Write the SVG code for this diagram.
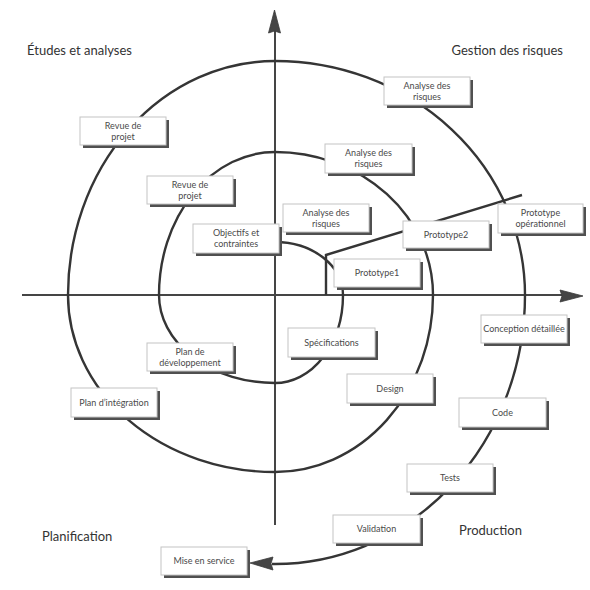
<svg xmlns="http://www.w3.org/2000/svg" width="590" height="590" viewBox="0 0 590 590">
<style>
.ax{stroke:#454545;stroke-width:2;fill:none}
.sp{stroke:#353535;stroke-width:2.4;fill:none}
.hd{fill:#454545;stroke:#3a3a3a;stroke-width:0.8}
.sh{fill:#505050}
.bx{fill:#fff;stroke:#c4c4c4;stroke-width:1}
.t{font-family:Lato,"Open Sans","Liberation Sans",sans-serif;font-size:9px;fill:#4a4a4a;text-anchor:middle}
.c{font-family:Lato,"Open Sans","Liberation Sans",sans-serif;font-size:13px;fill:#333}
</style>
<rect width="590" height="590" fill="#fff"/>
<g id="connectors">
<line class="ax" x1="22" y1="295" x2="562" y2="295"/>
<polygon class="hd" points="583,296 560,290 562,296 560,302"/>
<line class="ax" x1="275" y1="525" x2="275" y2="31"/>
<polygon class="hd" points="274.5,10 268.5,33 274.5,31 280.5,33"/>
<path class="sp" d="M 275 242 A 68 53 0 0 1 343 295 A 68 88 0 0 1 275 383 A 116 88 0 0 1 159 295 A 116 143 0 0 1 275 152 A 158 143 0 0 1 433 295 A 158 177 0 0 1 275 472 A 207 177 0 0 1 68 295 A 207 234 0 0 1 275 61 A 250 234 0 0 1 525 295 A 250 269 0 0 1 272 564"/>
<polygon class="hd" points="250,563 273,557 271,563.5 273,570"/>
<path class="sp" d="M 326 295 L 326 255 L 522 195" stroke-width="2"/>
</g>
<g id="revue-projet-1"><rect class="sh" x="83" y="120" width="86" height="28"/><rect class="bx" x="80" y="117" width="86" height="28"/><text class="t" x="123" y="128.5">Revue de</text><text class="t" x="123" y="139.5">projet</text></g>
<g id="revue-projet-2"><rect class="sh" x="150" y="179" width="86" height="28"/><rect class="bx" x="147" y="176" width="86" height="28"/><text class="t" x="190" y="187.5">Revue de</text><text class="t" x="190" y="198.5">projet</text></g>
<g id="objectifs"><rect class="sh" x="196" y="227" width="86" height="29"/><rect class="bx" x="193" y="224" width="86" height="29"/><text class="t" x="236" y="236">Objectifs et</text><text class="t" x="236" y="247">contraintes</text></g>
<g id="analyse-risques-1"><rect class="sh" x="286" y="207" width="86" height="28"/><rect class="bx" x="283" y="204" width="86" height="28"/><text class="t" x="326" y="215.5">Analyse des</text><text class="t" x="326" y="226.5">risques</text></g>
<g id="prototype1"><rect class="sh" x="337" y="262" width="86" height="28"/><rect class="bx" x="334" y="259" width="86" height="28"/><text class="t" x="377" y="276">Prototype1</text></g>
<g id="analyse-risques-2"><rect class="sh" x="328" y="147" width="87" height="29"/><rect class="bx" x="325" y="144" width="87" height="29"/><text class="t" x="368.5" y="156">Analyse des</text><text class="t" x="368.5" y="167">risques</text></g>
<g id="analyse-risques-3"><rect class="sh" x="387" y="80" width="86" height="28"/><rect class="bx" x="384" y="77" width="86" height="28"/><text class="t" x="427" y="88.5">Analyse des</text><text class="t" x="427" y="99.5">risques</text></g>
<g id="prototype2"><rect class="sh" x="406" y="224" width="86" height="27"/><rect class="bx" x="403" y="221" width="86" height="27"/><text class="t" x="446" y="237.5">Prototype2</text></g>
<g id="prototype-operationnel"><rect class="sh" x="501" y="207" width="85" height="29"/><rect class="bx" x="498" y="204" width="85" height="29"/><text class="t" x="540.5" y="216">Prototype</text><text class="t" x="540.5" y="227">opérationnel</text></g>
<g id="conception-detaillee"><rect class="sh" x="484" y="318" width="86" height="28"/><rect class="bx" x="481" y="315" width="86" height="28"/><text class="t" x="524" y="332">Conception détaillée</text></g>
<g id="code"><rect class="sh" x="462" y="401" width="87" height="29"/><rect class="bx" x="459" y="398" width="87" height="29"/><text class="t" x="502.5" y="415.5">Code</text></g>
<g id="tests"><rect class="sh" x="410" y="467" width="86" height="28"/><rect class="bx" x="407" y="464" width="86" height="28"/><text class="t" x="450" y="481">Tests</text></g>
<g id="validation"><rect class="sh" x="336" y="518" width="87" height="28"/><rect class="bx" x="333" y="515" width="87" height="28"/><text class="t" x="376.5" y="532">Validation</text></g>
<g id="mise-en-service"><rect class="sh" x="164" y="550" width="86" height="28"/><rect class="bx" x="161" y="547" width="86" height="28"/><text class="t" x="204" y="564">Mise en service</text></g>
<g id="specifications"><rect class="sh" x="291" y="331" width="87" height="29"/><rect class="bx" x="288" y="328" width="87" height="29"/><text class="t" x="331.5" y="345.5">Spécifications</text></g>
<g id="design"><rect class="sh" x="350" y="377" width="86" height="29"/><rect class="bx" x="347" y="374" width="86" height="29"/><text class="t" x="390" y="391.5">Design</text></g>
<g id="plan-developpement"><rect class="sh" x="150" y="346" width="86" height="28"/><rect class="bx" x="147" y="343" width="86" height="28"/><text class="t" x="190" y="354.5">Plan de</text><text class="t" x="190" y="365.5">développement</text></g>
<g id="plan-integration"><rect class="sh" x="74" y="391" width="86" height="29"/><rect class="bx" x="71" y="388" width="86" height="29"/><text class="t" x="114" y="405.5">Plan d’intégration</text></g>
<g id="quadrants">
<text class="c" x="27" y="55">Études et analyses</text>
<text class="c" x="563" y="55" text-anchor="end">Gestion des risques</text>
<text class="c" x="42" y="541">Planification</text>
<text class="c" x="459" y="535">Production</text>
</g>
</svg>
